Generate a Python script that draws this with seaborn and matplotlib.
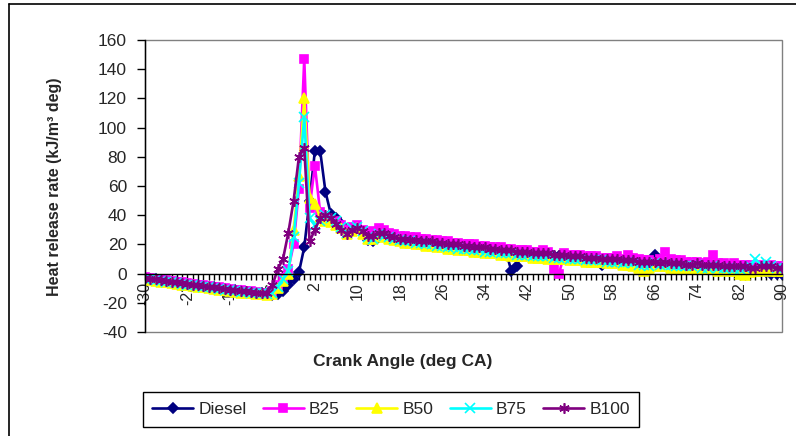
import numpy as np
import pandas as pd
import matplotlib
matplotlib.use("Agg")
import matplotlib.pyplot as plt
from matplotlib.lines import Line2D
from matplotlib.patches import Rectangle
import seaborn as sns

# ---------------- data ----------------
crank_angle = list(range(-30, 91))

diesel = [
    -3, -3.5, -4, -4.5, -5, -5.5, -6, -6.5, -7, -7.5,
    -8, -8.5, -9, -9.5, -10, -10.5, -11, -11.5, -12, -12.5,
    -13, -13, -13.5, -14, -14.5, -14, -12, -8, -4, 1,
    18, 50, 84, 84, 56, 41, 38, 34, 29, 30,
    32, 28, 23, 22, 25, 26, 25, 24, 23, 23,
    22, 22, 21, 21, 20, 20, 19, 19, 18, 18,
    18, 17, 17, 16, 16, 16, 15, 15, 15, 2,
    5, 15, 14, 14, 13, 13, 13, 12, 12, 12,
    11, 11, 11, 10, 10, 10, 6, 9, 9, 9,
    8, 8, 7, 8, 7, 7, 13, 7, 6, 6,
    6, 5, 6, 5, 5, 4, 5, 4, 4, 4,
    4, 3, 3, 4, 3, 3, 2, 1, 0, 0,
    0,
]
b25 = [
    -2.5, -3, -3.5, -4, -4.5, -5, -5.5, -6, -6.5, -7,
    -7.5, -8, -8.5, -9, -9.5, -10, -10.5, -11, -11.5, -12,
    -12, -12.5, -13, -13, -12, -8, -3, 3, 20, 58,
    147, 45, 74, 42, 38, 37, 36, 33, 30, 32,
    33, 30, 28, 29, 31, 30, 28, 27, 26, 26,
    25, 25, 24, 24, 23, 23, 22, 22, 21, 21,
    20, 20, 20, 19, 19, 18, 18, 18, 17, 17,
    16, 16, 16, 15, 15, 16, 15, 3, 0, 14,
    13, 13, 13, 12, 12, 12, 11, 11, 11, 12,
    10, 13, 11, 10, 9, 9, 8, 10, 15, 10,
    9, 9, 8, 8, 8, 7, 8, 13, 7, 7,
    6, 7, 6, 6, 6, 5, 6, 5, 6, 5,
    5,
]
b50 = [
    -4, -4.5, -5, -5.5, -6, -6.5, -7, -7.5, -8, -8.5,
    -9, -9.5, -10, -10.5, -11, -11.5, -12, -12.5, -13, -13,
    -13.5, -14, -14, -14.5, -14, -10, -5, 0, 30, 67,
    120, 52, 48, 38, 36, 35, 33, 31, 27, 29,
    31, 27, 24, 24, 26, 25, 24, 23, 22, 21,
    21, 20, 20, 19, 19, 18, 18, 17, 17, 16,
    16, 16, 15, 15, 14, 14, 14, 13, 13, 12,
    12, 12, 12, 11, 11, 11, 10, 10, 10, 10,
    9, 9, 9, 8, 8, 8, 8, 7, 7, 7,
    6, 6, 5, 4, 2, 4, 5, 5, 5, 4,
    4, 4, 4, 3, 3, 3, 3, 3, 2, 3,
    2, 2, 0, -1, 1, 2, 2, 3, 2, 2,
    2,
]
b75 = [
    -3.5, -4, -4.5, -5, -5.5, -6, -6.5, -7, -7.5, -8,
    -8.5, -9, -9.5, -10, -10.5, -11, -11.5, -12, -12.5, -12.5,
    -13, -13.5, -13.5, -14, -13, -9, -4, 2, 25, 62,
    107, 38, 33, 36, 40, 38, 36, 32, 28, 31,
    32, 29, 25, 24, 27, 26, 25, 24, 23, 22,
    22, 21, 21, 20, 20, 19, 19, 18, 18, 17,
    17, 17, 16, 16, 15, 15, 15, 14, 14, 14,
    13, 13, 13, 12, 12, 12, 12, 11, 11, 11,
    10, 10, 10, 9, 9, 9, 9, 8, 8, 8,
    7, 8, 7, 6, 6, 5, 7, 6, 6, 6,
    5, 5, 5, 5, 6, 4, 4, 5, 4, 4,
    4, 3, 3, 4, 5, 10, 6, 8, 5, 4,
    4,
]
b100 = [
    -3, -3.5, -4, -4.5, -5, -5.5, -6, -6.5, -7, -7.5,
    -8, -8.5, -9, -9.5, -10, -10.5, -11, -11.5, -12, -12,
    -12.5, -13, -13, -13, -8, 3, 10, 28, 50, 80,
    86, 22, 30, 38, 40, 38, 34, 30, 27, 30,
    31, 29, 26, 26, 28, 28, 26, 25, 24, 24,
    23, 23, 22, 22, 22, 21, 21, 20, 20, 20,
    19, 19, 18, 18, 18, 17, 17, 16, 16, 16,
    15, 15, 15, 14, 14, 14, 14, 13, 13, 13,
    12, 12, 12, 11, 11, 11, 10, 10, 10, 10,
    9, 9, 9, 8, 8, 8, 8, 7, 8, 7,
    7, 7, 6, 6, 7, 6, 6, 6, 6, 5,
    5, 5, 5, 5, 4, 4, 5, 5, 5, 4,
    4,
]

series_names = ["Diesel", "B25", "B50", "B75", "B100"]
x_tick_labels = list(range(-30, 91, 8))
y_ticks = list(range(-40, 161, 20))

# ---------------- style ----------------
sns.set_style("white")
plt.rcParams["font.family"] = ["Liberation Sans", "DejaVu Sans"]

colors = {"Diesel": "#000080", "B25": "#FF00FF", "B50": "#FFFF00",
          "B75": "#00FFFF", "B100": "#800080"}
markers = {"Diesel": "D", "B25": "s", "B50": "^", "B75": "x", "B100": (6, 2, 0)}
msizes = {"Diesel": 5.5, "B25": 6, "B50": 7, "B75": 6.5, "B100": 7.5}

df = pd.DataFrame({"angle": crank_angle, "Diesel": diesel, "B25": b25,
                   "B50": b50, "B75": b75, "B100": b100})

fig = plt.figure(figsize=(7.96, 4.36), dpi=100)
ax = fig.add_axes([145 / 796, 1 - 332 / 436, 637 / 796, 292 / 436])

for name in series_names:
    sns.lineplot(data=df, x="angle", y=name, ax=ax, color=colors[name],
                 marker=markers[name], markersize=msizes[name],
                 markeredgecolor=colors[name], markerfacecolor=colors[name],
                 markeredgewidth=1.2, linewidth=1.9, label=name, legend=False)

ax.set_xlim(-30, 90)
ax.set_ylim(-40, 160)
ax.set_xlabel("")
ax.set_ylabel("")

# x axis crossing at y = 0
ax.spines["bottom"].set_position(("data", 0))
for s in ["top", "right"]:
    ax.spines[s].set_visible(False)
ax.spines["left"].set_color("black")
ax.spines["bottom"].set_color("black")
ax.spines["left"].set_linewidth(1.0)
ax.spines["bottom"].set_linewidth(1.0)

# plot-area border (grey)
ax.add_patch(Rectangle((0, 0), 1, 1, transform=ax.transAxes, fill=False,
                       edgecolor="#808080", linewidth=1.0, clip_on=False, zorder=0))

ax.set_xticks(x_tick_labels)
ax.set_xticklabels([str(v) for v in x_tick_labels], rotation=90, fontsize=11.5)
ax.set_xticks(crank_angle, minor=True)
ax.tick_params(axis="x", which="both", direction="out", length=4, width=1,
               color="black", pad=2, bottom=True)
ax.set_yticks(y_ticks)
ax.set_yticklabels([str(v) for v in y_ticks], fontsize=12.5)
ax.tick_params(axis="y", direction="out", length=6, width=1, color="black",
               pad=7, left=True)
ax.grid(False)

fig.text(55 / 796, 1 - 187 / 436, "Heat release rate (kJ/m\u00b3 deg)",
         rotation=90, ha="center", va="center", fontsize=11.5, fontweight="bold")
fig.text(403 / 796, 1 - 361 / 436, "Crank Angle (deg CA)",
         ha="center", va="center", fontsize=12.5, fontweight="bold")

handles = [Line2D([], [], color=colors[n], marker=markers[n], markersize=msizes[n],
                  markeredgecolor=colors[n], markerfacecolor=colors[n],
                  markeredgewidth=1.2, linewidth=1.9) for n in series_names]
leg = ax.legend(handles, series_names, loc="center",
                bbox_to_anchor=(391 / 796, 1 - 409.5 / 436),
                bbox_transform=fig.transFigure, ncol=5, fontsize=12.5,
                frameon=True, fancybox=False, framealpha=1, edgecolor="black",
                handlelength=2.35, handletextpad=0.3, columnspacing=0.95,
                borderpad=0.55, borderaxespad=0)
leg.get_frame().set_linewidth(1.0)

# outer chart frame
fig.add_artist(Line2D([9 / 796, 1.0], [1 - 4 / 436, 1 - 4 / 436],
                      transform=fig.transFigure, color="black", linewidth=1.2))
fig.add_artist(Line2D([9 / 796, 9 / 796], [0.0, 1 - 4 / 436],
                      transform=fig.transFigure, color="black", linewidth=1.2))

fig.savefig("out.png", dpi=100)
